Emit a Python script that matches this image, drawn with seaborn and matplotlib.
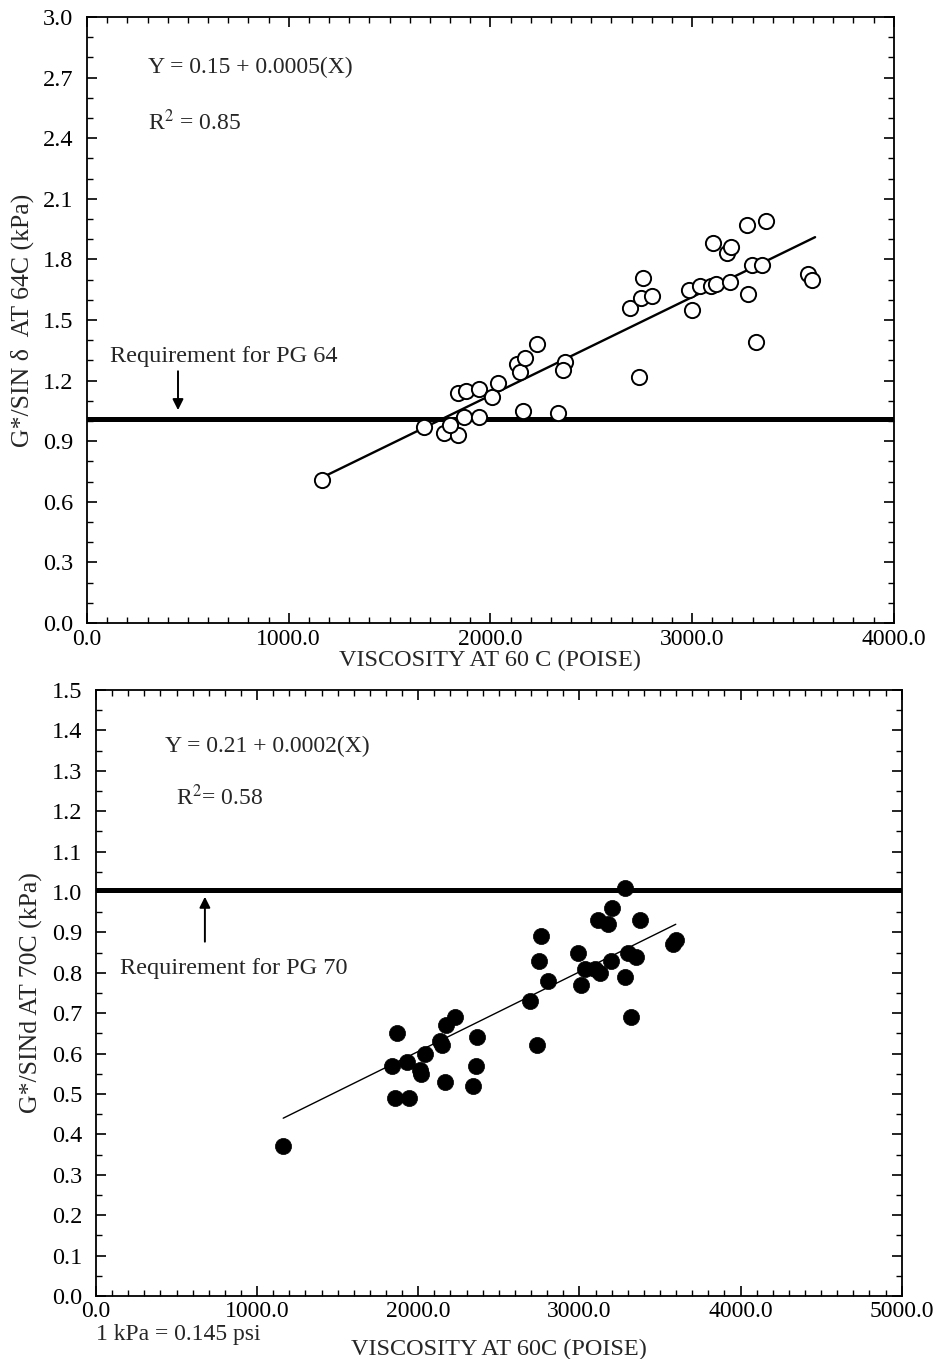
import matplotlib
matplotlib.use("Agg")
import matplotlib.pyplot as plt
import seaborn as sns
import pandas as pd
from matplotlib.ticker import MultipleLocator, FormatStrFormatter

# --- data ---
# top panel: G*/sin(delta) at 64C vs viscosity at 60C
visc_64 = [1165, 1673, 1772, 1838, 1800, 1867, 1943, 1838, 1880, 1943, 2009, 2037,
           2132, 2147, 2174, 2231, 2163, 2337, 2369, 2360, 2735, 2694, 2749, 2800,
           2758, 2986, 2999, 3037, 3096, 3118, 3186, 3105, 3171, 3194, 3270, 3369,
           3298, 3346, 3277, 3318, 3573, 3593]
g_64 = [0.71, 0.97, 0.94, 0.93, 0.98, 1.02, 1.02, 1.14, 1.15, 1.16, 1.12, 1.19,
        1.28, 1.24, 1.31, 1.38, 1.05, 1.04, 1.29, 1.25, 1.22, 1.56, 1.61, 1.62,
        1.71, 1.65, 1.55, 1.67, 1.67, 1.68, 1.69, 1.88, 1.83, 1.86, 1.97, 1.99,
        1.77, 1.77, 1.63, 1.39, 1.73, 1.70]
fit_64_x = [1165, 3610]
fit_64_y = [0.72, 1.91]
req_64 = 1.01

# bottom panel: G*/sin(delta) at 70C vs viscosity at 60C
visc_70 = [1162, 1834, 1871, 1855, 1944, 1933, 2010, 2020, 2041, 2134, 2148, 2169,
           2175, 2227, 2366, 2361, 2337, 2696, 2734, 2750, 2759, 2806, 2992, 3007,
           3033, 3096, 3127, 3195, 3116, 3178, 3205, 3282, 3379, 3302, 3354, 3282,
           3323, 3581, 3602]
g_70 = [0.37, 0.57, 0.65, 0.49, 0.49, 0.58, 0.56, 0.55, 0.60, 0.63, 0.62, 0.53,
        0.67, 0.69, 0.64, 0.57, 0.52, 0.73, 0.62, 0.83, 0.89, 0.78, 0.85, 0.77,
        0.81, 0.81, 0.80, 0.83, 0.93, 0.92, 0.96, 1.01, 0.93, 0.85, 0.84, 0.79,
        0.69, 0.87, 0.88]
fit_70_x = [1162, 3598]
fit_70_y = [0.44, 0.92]
req_70 = 1.005

df64 = pd.DataFrame({"visc": visc_64, "g": g_64})
df70 = pd.DataFrame({"visc": visc_70, "g": g_70})

sns.set_style("ticks")
plt.rcParams["font.family"] = ["Liberation Serif", "DejaVu Serif"]
plt.rcParams["mathtext.fontset"] = "stix"

fig = plt.figure(figsize=(9.38, 13.59), dpi=100)
ax1 = fig.add_axes([0.0928, 0.5416, 0.860, 0.4459])
ax2 = fig.add_axes([0.1023, 0.0464, 0.859, 0.4459])

# top panel
sns.scatterplot(data=df64, x="visc", y="g", ax=ax1, marker="o", s=120,
                facecolor="white", edgecolor="black", linewidth=1.4, zorder=3)
sns.lineplot(x=fit_64_x, y=fit_64_y, ax=ax1, color="black", linewidth=1.7, zorder=2)
ax1.axhline(req_64, color="black", linewidth=3.6, zorder=2)
ax1.set_xlim(0, 4000)
ax1.set_ylim(0, 3.0)
ax1.xaxis.set_major_locator(MultipleLocator(1000))
ax1.xaxis.set_minor_locator(MultipleLocator(100))
ax1.yaxis.set_major_locator(MultipleLocator(0.3))
ax1.yaxis.set_minor_locator(MultipleLocator(0.1))
ax1.set_xlabel("VISCOSITY AT 60 C (POISE)", fontsize=17.5, labelpad=0)
ax1.set_ylabel("G*/SIN δ  AT 64C (kPa)", fontsize=18.5, labelpad=6)
ax1.text(302, 2.75, "Y = 0.15 + 0.0005(X)", fontsize=17, va="center")
ax1.text(302, 2.48, "R$^2$ = 0.85", fontsize=17, va="center")
ax1.text(112, 1.32, "Requirement for PG 64", fontsize=17.5, va="center")
ax1.annotate("", xy=(451, 1.04), xytext=(451, 1.26),
             arrowprops=dict(arrowstyle="-|>", color="black", lw=1.4,
                             mutation_scale=16))

# bottom panel
sns.scatterplot(data=df70, x="visc", y="g", ax=ax2, marker="o", s=135,
                color="black", edgecolor="black", linewidth=0.5, zorder=3)
sns.lineplot(x=fit_70_x, y=fit_70_y, ax=ax2, color="black", linewidth=1.0, zorder=2)
ax2.axhline(req_70, color="black", linewidth=3.6, zorder=2)
ax2.set_xlim(0, 5000)
ax2.set_ylim(0, 1.5)
ax2.xaxis.set_major_locator(MultipleLocator(1000))
ax2.xaxis.set_minor_locator(MultipleLocator(100))
ax2.yaxis.set_major_locator(MultipleLocator(0.1))
ax2.yaxis.set_minor_locator(MultipleLocator(0.05))
ax2.set_xlabel("VISCOSITY AT 60C (POISE)", fontsize=17.5, labelpad=12)
ax2.set_ylabel("G*/SINd AT 70C (kPa)", fontsize=18.5, labelpad=6)
ax2.text(428, 1.36, "Y = 0.21 + 0.0002(X)", fontsize=17, va="center")
ax2.text(496, 1.235, "R$^2$= 0.58", fontsize=17, va="center")
ax2.text(150, 0.81, "Requirement for PG 70", fontsize=17.5, va="center")
ax2.annotate("", xy=(676, 0.995), xytext=(676, 0.87),
             arrowprops=dict(arrowstyle="-|>", color="black", lw=1.4,
                             mutation_scale=16))
ax2.text(0, -0.095, "1 kPa = 0.145 psi", fontsize=17, va="center",
         transform=ax2.get_yaxis_transform())

for ax in (ax1, ax2):
    ax.xaxis.set_major_formatter(FormatStrFormatter("%.1f"))
    ax.yaxis.set_major_formatter(FormatStrFormatter("%.1f"))
    ax.tick_params(which="both", direction="in", top=True, right=True, colors="black")
    ax.tick_params(which="major", length=7, width=1.2)
    ax.tick_params(which="minor", length=4, width=1.0)
    ax.tick_params(axis="x", labelsize=17, pad=4)
    ax.tick_params(axis="y", labelsize=17.5, pad=10)
    for sp in ax.spines.values():
        sp.set_linewidth(1.3)
        sp.set_color("black")
    if ax.get_legend():
        ax.get_legend().remove()

fig.savefig("out.png", dpi=100)
